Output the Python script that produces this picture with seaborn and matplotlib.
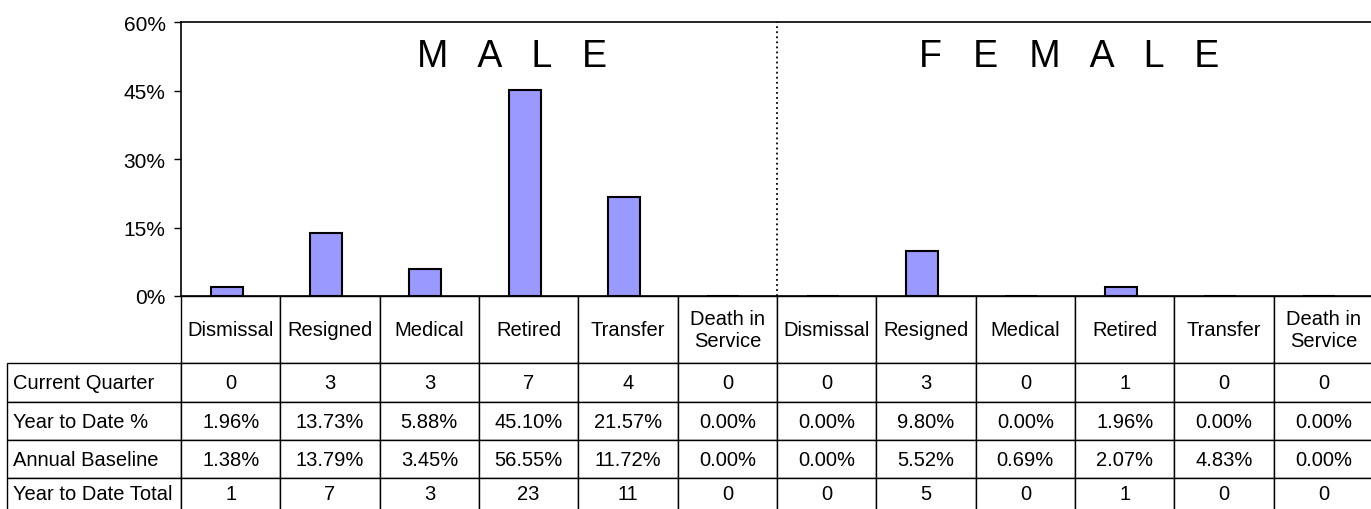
import matplotlib
matplotlib.use("Agg")
import matplotlib.pyplot as plt
import seaborn as sns
import pandas as pd

# ---- data ----
reasons = ["Dismissal", "Resigned", "Medical", "Retired", "Transfer", "Death in\nService"]
genders = ["Male", "Female"]
ytd_pct_male = [1.96, 13.73, 5.88, 45.10, 21.57, 0.00]
ytd_pct_female = [0.00, 9.80, 0.00, 1.96, 0.00, 0.00]
current_q_male = [0, 3, 3, 7, 4, 0]
current_q_female = [0, 3, 0, 1, 0, 0]
baseline_male = [1.38, 13.79, 3.45, 56.55, 11.72, 0.00]
baseline_female = [0.00, 5.52, 0.69, 2.07, 4.83, 0.00]
ytd_total_male = [1, 7, 3, 23, 11, 0]
ytd_total_female = [0, 5, 0, 1, 0, 0]
row_labels = ["Current Quarter", "Year to Date %", "Annual Baseline", "Year to Date Total"]
y_ticks = [0, 15, 30, 45, 60]

# ---- frame ----
keys = [f"{g} {r}" for g in genders for r in reasons]
df = pd.DataFrame({"key": keys, "pct": ytd_pct_male + ytd_pct_female})

sns.set_style("white")
plt.rcParams["font.family"] = ["Liberation Sans", "DejaVu Sans"]
plt.rcParams["text.color"] = "black"
plt.rcParams["ytick.color"] = "black"
plt.rcParams["xtick.color"] = "black"

W, H = 1371, 510
fig = plt.figure(figsize=(W / 100, H / 100), dpi=100)
ax_l, ax_r, ax_t, ax_b = 181, 1373, 23, 297
axw, axh = ax_r - ax_l, ax_b - ax_t
ax = fig.add_axes([ax_l / W, 1 - ax_b / H, axw / W, axh / H])

sns.barplot(data=df, x="key", y="pct", order=keys, width=0.32, color="#9999FF",
            saturation=1, edgecolor="black", linewidth=1.5, ax=ax)

ax.set_xlim(-0.46, 11.54)
ax.set_ylim(0, 60)
ax.set_yticks(y_ticks)
ax.set_yticklabels([f"{t}%" for t in y_ticks], fontsize=15)
ax.tick_params(axis="y", left=True, length=5, width=1, pad=6, colors="black")
ax.tick_params(axis="x", bottom=False, labelbottom=False)
ax.set_xlabel("")
ax.set_ylabel("")
for s in ["left", "top", "bottom"]:
    ax.spines[s].set_visible(True)
    ax.spines[s].set_color("black")
    ax.spines[s].set_linewidth(1.2)
ax.spines["right"].set_visible(False)

# divider between male and female
ax.plot([0.5, 0.5], [0, 1], transform=ax.transAxes, color="black", lw=1.3,
        linestyle=(0, (1, 1.8)), clip_on=False)

ax.text(0.2773, 0.839, "M   A   L   E", transform=ax.transAxes, ha="center",
        va="baseline", fontsize=27, color="black")
ax.text(0.745, 0.839, "F   E   M   A   L   E", transform=ax.transAxes, ha="center",
        va="baseline", fontsize=27, color="black")

# ---- table (row labels as first column, empty corner) ----
def pct(v):
    return f"{v:.2f}%"

body = [
    [str(v) for v in current_q_male + current_q_female],
    [pct(v) for v in ytd_pct_male + ytd_pct_female],
    [pct(v) for v in baseline_male + baseline_female],
    [str(v) for v in ytd_total_male + ytd_total_female],
]
cell_text = [[lab] + row for lab, row in zip(row_labels, body)]
col_labels = [""] + reasons + reasons

row_h = [67, 39, 38, 38, 32]
tab_left = 7
tab_bottom = ax_b + sum(row_h)
bbox = [(tab_left - ax_l) / axw, (ax_b - tab_bottom) / axh,
        (ax_r - tab_left) / axw, (tab_bottom - ax_b) / axh]

tab = ax.table(cellText=cell_text, colLabels=col_labels,
               cellLoc="center", bbox=bbox)
tab.auto_set_font_size(False)
tab.set_fontsize(14.5)

for (r, c), cell in tab.get_celld().items():
    cell.set_width(ax_l - tab_left if c == 0 else axw / 12)
    cell.set_height(row_h[r])
    cell.set_edgecolor("black")
    cell.set_linewidth(1.0)
    cell.set_facecolor("white")
    cell.get_text().set_color("black")
    if c == 0:
        if r == 0:
            cell.visible_edges = ""
            cell.set_facecolor("none")
        else:
            cell.get_text().set_ha("left")
            cell._loc = "left"
            cell.PAD = 0.035

fig.savefig("out.png", dpi=100)
